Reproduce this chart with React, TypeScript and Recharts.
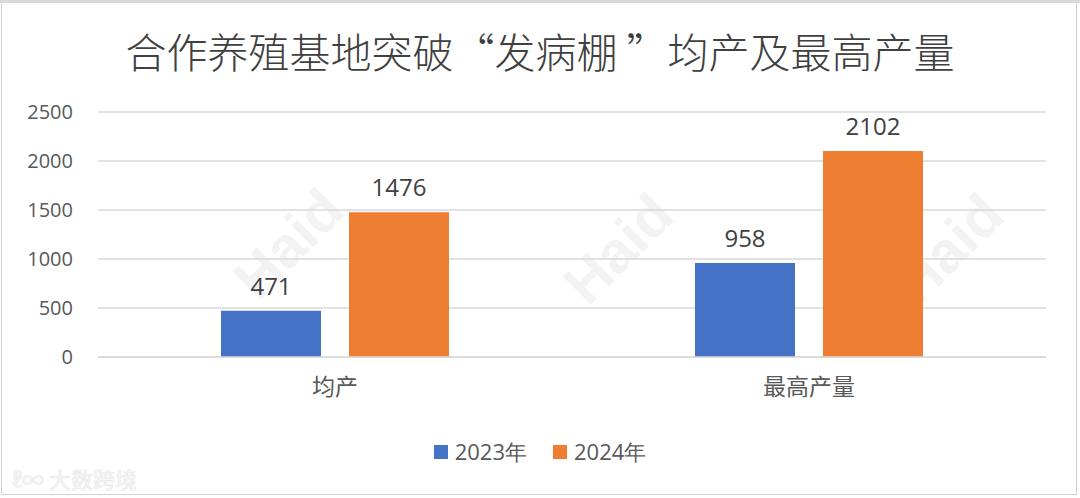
import React from "react";
import { BarChart, Bar, XAxis, YAxis, CartesianGrid, LabelList } from "recharts";

const categories = ["均产", "最高产量"];
const series2023 = [471, 958];
const series2024 = [1476, 2102];
const yTicks = [0, 500, 1000, 1500, 2000, 2500];
const seriesNames = ["2023年", "2024年"];
const colors = ["#4472C4", "#ED7D31"];

const data = categories.map((c, i) => ({ name: c, y2023: series2023[i], y2024: series2024[i] }));

const numFont = "'Open Sans', 'Noto Sans', sans-serif";
const watermarkSpots = [
  [225, 210],
  [555, 215],
  [885, 215],
];

export default function App() {
  return (
    <div style={{ position: "absolute", left: 0, top: 0, width: 1080, height: 498, background: "#fff", overflow: "hidden" }}>
      {watermarkSpots.map(([l, t], i) => (
        <div
          key={i}
          style={{
            position: "absolute",
            left: l,
            top: t,
            fontFamily: "'Liberation Sans', sans-serif",
            fontWeight: 700,
            fontSize: 58,
            color: "#f3f3f3",
            transform: "rotate(-45deg)",
            transformOrigin: "center",
          }}
        >
          Haid
        </div>
      ))}
      <div style={{ position: "absolute", left: 1, top: 1, width: 1076, height: 494, border: "1px solid #d0d0d0", boxSizing: "border-box" }} />
      <div style={{ position: "absolute", left: 0, top: 0, width: 1080, height: 3, background: "#d8d8d8" }} />
      <div
        style={{
          position: "absolute",
          left: 0,
          top: 24,
          width: 1080,
          textAlign: "center",
          fontFamily: "'Noto Sans CJK SC', sans-serif",
          fontSize: 41,
          fontWeight: 300,
          lineHeight: "52px",
          color: "#404040",
          whiteSpace: "pre",
        }}
      >
        合作养殖基地突破“发病棚 ”均产及最高产量
      </div>
      <div style={{ position: "absolute", left: 0, top: 0 }}>
        <BarChart width={1080} height={498} data={data} margin={{ top: 112, right: 34, bottom: 91, left: 0 }} barGap={28} barSize={100}>
          <CartesianGrid vertical={false} stroke="#d9d9d9" strokeWidth={1.5} />
          <XAxis
            dataKey="name"
            axisLine={{ stroke: "#d9d9d9", strokeWidth: 1.5 }}
            tickLine={false}
            tickSize={0}
            tickMargin={22}
            height={50}
            tick={{ fill: "#595959", fontSize: 23, fontFamily: "'Noto Sans CJK SC', sans-serif" }}
          />
          <YAxis
            domain={[0, 2500]}
            ticks={yTicks}
            width={98}
            axisLine={false}
            tickLine={false}
            tickSize={0}
            tickMargin={25}
            tick={{ fill: "#595959", fontSize: 20, fontFamily: numFont }}
          />
          <Bar dataKey="y2023" fill={colors[0]} isAnimationActive={false}>
            <LabelList dataKey="y2023" position="top" offset={16} fill="#404040" fontSize={24} fontFamily={numFont} />
          </Bar>
          <Bar dataKey="y2024" fill={colors[1]} isAnimationActive={false}>
            <LabelList dataKey="y2024" position="top" offset={16} fill="#404040" fontSize={24} fontFamily={numFont} />
          </Bar>
        </BarChart>
      </div>
      <div
        style={{
          position: "absolute",
          left: 0,
          top: 436,
          width: 1080,
          display: "flex",
          justifyContent: "center",
          alignItems: "center",
          gap: 26,
          fontFamily: numFont,
          fontSize: 22,
          color: "#595959",
        }}
      >
        {seriesNames.map((n, i) => (
          <div key={n} style={{ display: "flex", alignItems: "center", gap: 7 }}>
            <span style={{ display: "inline-block", width: 14, height: 14, background: colors[i] }} />
            <span>{n}</span>
          </div>
        ))}
      </div>
      <div
        style={{
          position: "absolute",
          left: 12,
          top: 462,
          fontFamily: "'Noto Sans CJK SC', sans-serif",
          fontSize: 22,
          color: "#f4f4f4",
          textShadow: "0 0 1px #c8c8c8",
        }}
      >
        ℓ∞ 大数跨境
      </div>
    </div>
  );
}
